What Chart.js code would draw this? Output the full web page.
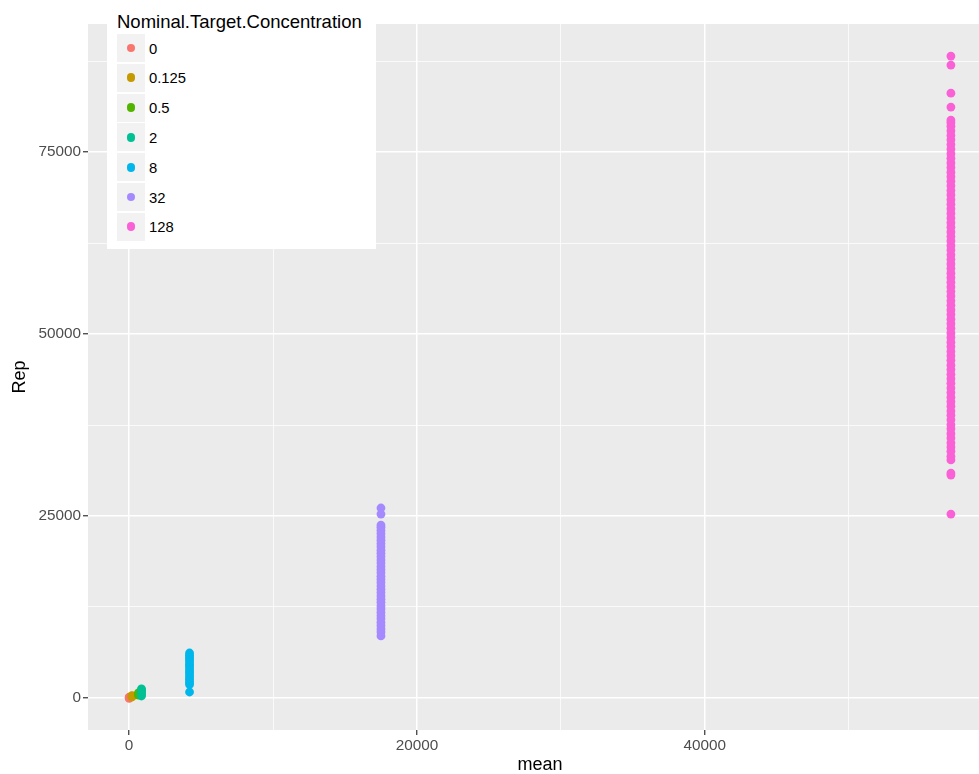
<!DOCTYPE html>
<html>
<head>
<meta charset="utf-8">
<title>Rep vs mean</title>
<script src="https://cdn.jsdelivr.net/npm/chart.js@4.4.1/dist/chart.umd.min.js"></script>
<style>
  html, body { margin: 0; padding: 0; background: #ffffff; overflow: hidden; width: 979px; height: 774px; }
  #wrap { position: relative; width: 1002px; height: 774px; }
  #plot { position: absolute; left: 0; top: 0; }
  #legend { position: absolute; left: 107px; top: 4px; width: 269px; height: 245px; background: #ffffff;
            font-family: "Liberation Sans", Arial, Helvetica, sans-serif; }
  #legend .title { position: absolute; left: 10px; top: 7.3px; font-size: 18.5px; color: #000; white-space: nowrap; line-height: normal; }
  #legend .key { position: absolute; left: 10px; width: 28px; height: 28px; background: #F2F2F2; }
  #legend .dot { position: absolute; left: 9.6px; top: 9.6px; width: 8.8px; height: 8.8px; border-radius: 50%; }
  #legend .lab { position: absolute; left: 42px; font-size: 14.8px; color: #000; white-space: nowrap; line-height: normal; }
</style>
</head>
<body>
<div id="wrap">
  <canvas id="plot" width="1002" height="774"></canvas>
  <div id="legend"><div class="title">Nominal.Target.Concentration</div></div>
</div>
<script>
// Concentration levels and their hue colours
const categories = ['0', '0.125', '0.5', '2', '8', '32', '128'];
const palette = ['#F8766D', '#C49A00', '#53B400', '#00C094', '#00B6EB', '#A58AFF', '#FB61D7'];

// Mean signal for each concentration level
const meanValues = [10, 200, 650, 860, 4200, 17500, 57100];

// Replicate readings per concentration level
const repConc0 = [-60, 40, 110];
const repConc0125 = [150, 240, 310];
const repConc05 = [380, 520, 690];
const repConc2 = [270, 480, 690, 930, 1120, 1240];
const repConc8 = [820, 1850, 2150, 2480, 2760, 3090, 3420, 3700, 4010, 4350, 4620, 4960,
                  5280, 5560, 5870, 6180];
const repConc32 = [8520, 9070, 9480, 9950, 10380, 10870, 11290, 11760, 12230, 12650, 13140,
                   13580, 14020, 14490, 14930, 15370, 15850, 16280, 16720, 17190, 17630, 18060,
                   18540, 18970, 19430, 19880, 20310, 20790, 21220, 21680, 22110, 22570, 23020,
                   23460, 23760, 25270, 26100];
const repConc128 = [25270, 30630, 30900, 32700, 33200, 33900, 34480, 35050, 35720, 36310, 36980,
                    37540, 38210, 38860, 39420, 40090, 40710, 41330, 41960, 42580, 43240, 43850,
                    44470, 45120, 45730, 46390, 47010, 47620, 48280, 48890, 49530, 50160, 50790,
                    51420, 52040, 52690, 53310, 53950, 54560, 55220, 55830, 56470, 57110, 57740,
                    58360, 59010, 59630, 60260, 60890, 61540, 62150, 62790, 63420, 64030, 64690,
                    65310, 65940, 66580, 67200, 67840, 68460, 69110, 69720, 70360, 70990, 71630,
                    72240, 72890, 73510, 74150, 74770, 75420, 76030, 76680, 77290, 77930, 78560,
                    79040, 79400, 81180, 83100, 86950, 88190];
const repValues = [repConc0, repConc0125, repConc05, repConc2, repConc8, repConc32, repConc128];

// Axis ticks: labelled majors and unlabelled minor grid lines
const xMajorTicks = [0, 20000, 40000];
const xMinorTicks = [10000, 30000, 50000];
const yMajorTicks = [0, 25000, 50000, 75000];
const yMinorTicks = [12500, 37500, 62500, 87500];

const FONT = '"Liberation Sans", Arial, Helvetica, sans-serif';

const datasets = categories.map((cat, i) => ({
  label: cat,
  data: repValues[i].map(r => ({ x: meanValues[i], y: r })),
  backgroundColor: palette[i],
  borderWidth: 0,
  pointRadius: 4.4,
  pointBorderWidth: 0,
  pointHoverRadius: 4.4,
  order: -i
}));

// Grey panel behind the grid
const panelBackground = {
  id: 'panelBackground',
  beforeDraw(chart) {
    const { ctx, chartArea: a } = chart;
    ctx.save();
    ctx.fillStyle = '#EBEBEB';
    ctx.fillRect(a.left, a.top, a.right - a.left, a.bottom - a.top);
    ctx.restore();
  }
};

function axisOptions(majors, minors, min, max, title, isX) {
  const all = majors.concat(minors).sort((a, b) => a - b);
  const isMajor = v => majors.includes(v);
  return {
    type: 'linear',
    min: min,
    max: max,
    afterBuildTicks: s => { s.ticks = all.map(v => ({ value: v })); },
    afterFit: s => { if (isX) { s.height = 44; } else { s.width = 88; } },
    border: { display: false },
    grid: {
      color: '#FFFFFF',
      lineWidth: ctx => (ctx.tick && isMajor(ctx.tick.value)) ? 1.5 : 0.75,
      drawTicks: true,
      tickLength: 5,
      tickWidth: 1.2,
      tickColor: ctx => (ctx.tick && isMajor(ctx.tick.value)) ? '#333333' : 'rgba(0,0,0,0)'
    },
    ticks: {
      autoSkip: false,
      maxRotation: 0,
      padding: isX ? 2 : 2,
      color: '#4D4D4D',
      font: { family: FONT, size: 15.3 },
      callback: v => isMajor(v) ? String(v) : ''
    },
    title: {
      display: true,
      text: title,
      color: '#000000',
      font: { family: FONT, size: 18, lineHeight: isX ? 1 : 1.2 },
      padding: isX ? { top: 0, bottom: 0 } : { top: 9, bottom: 0 }
    }
  };
}

new Chart(document.getElementById('plot'), {
  type: 'scatter',
  data: { datasets: datasets },
  options: {
    responsive: false,
    animation: false,
    events: [],
    layout: { padding: { top: 24, right: 10, left: 0, bottom: 0 } },
    plugins: { legend: { display: false }, tooltip: { enabled: false } },
    scales: {
      x: axisOptions(xMajorTicks, xMinorTicks, -2855, 59955, 'mean', true),
      y: axisOptions(yMajorTicks, yMinorTicks, -4400, 92600, 'Rep', false)
    }
  },
  plugins: [panelBackground]
});

// Legend rows built from the same categories and colours
const legend = document.getElementById('legend');
categories.forEach((cat, i) => {
  const center = 44 + 29.8 * i; // relative to legend box
  const key = document.createElement('div');
  key.className = 'key';
  key.style.top = (center - 14) + 'px';
  const dot = document.createElement('div');
  dot.className = 'dot';
  dot.style.background = palette[i];
  key.appendChild(dot);
  const lab = document.createElement('div');
  lab.className = 'lab';
  lab.style.top = (center - 7.4) + 'px';
  lab.textContent = cat;
  legend.appendChild(key);
  legend.appendChild(lab);
});
</script>
</body>
</html>
